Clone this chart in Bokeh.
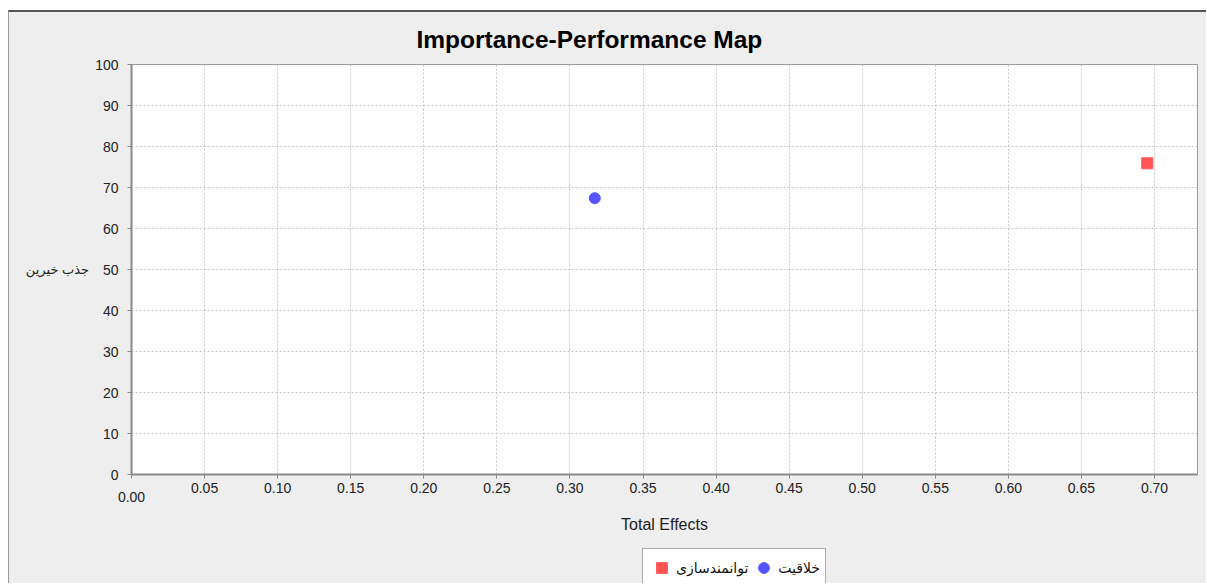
from bokeh.plotting import figure
from bokeh.layouts import column
from bokeh.models import FixedTicker, Legend, LegendItem, NumeralTickFormatter, Range1d
from bokeh.embed import file_html
from bokeh.resources import INLINE

# ---- data ----
series_names = ["توانمندسازی", "خلاقیت"]
total_effects = [0.695, 0.317]
performance = [75.9, 67.4]
x_ticks = [0.00, 0.05, 0.10, 0.15, 0.20, 0.25, 0.30, 0.35, 0.40, 0.45, 0.50, 0.55, 0.60, 0.65, 0.70]
y_ticks = [0, 10, 20, 30, 40, 50, 60, 70, 80, 90, 100]
x_label = "Total Effects"
y_label = "جذب خیرین"
title_text = "Importance-Performance Map"

FONT = "'Liberation Sans', 'DejaVu Sans', Arial, sans-serif"
BG = "#EEEEEE"
colors = ["#FF5555", "#5555FF"]
markers = ["square", "circle"]

p = figure(width=1198, height=538, output_backend="svg", toolbar_location=None,
           x_range=Range1d(0, 0.7294), y_range=Range1d(0, 100),
           min_border_left=122, min_border_right=10, min_border_top=51, min_border_bottom=76,
           background_fill_color="white", border_fill_color=BG,
           styles={"border-top": "2px solid #555555", "border-left": "1px solid #999999"})

p.title.text = title_text
p.title.text_font = FONT
p.title.text_font_size = "24.5px"
p.title.text_font_style = "bold"
p.title.text_color = "#000000"
p.title.align = "left"
p.title.offset = 285
p.title.standoff = 23

p.outline_line_color = "#9a9a9a"
p.outline_line_width = 1

for ax in (p.xaxis[0], p.yaxis[0]):
    ax.axis_line_color = "#888888"
    ax.axis_line_width = 2
    ax.major_tick_line_color = "#888888"
    ax.major_tick_out = 4
    ax.major_tick_in = 0
    ax.minor_tick_line_color = None
    ax.major_label_text_font = FONT
    ax.major_label_text_font_size = "14px"
    ax.major_label_text_color = "#222222"
    ax.axis_label_text_font = FONT
    ax.axis_label_text_font_style = "normal"
    ax.axis_label_text_color = "#222222"

p.xaxis.ticker = FixedTicker(ticks=x_ticks)
p.xaxis.formatter = NumeralTickFormatter(format="0.00")
p.xaxis.major_label_overrides = {0: "\n0.00"}
p.xaxis.major_label_text_line_height = 0.6
p.xaxis.axis_label = x_label
p.xaxis.axis_label_text_font_size = "16px"
p.xaxis.axis_label_standoff = 8
p.xaxis.major_label_standoff = 1

p.yaxis.ticker = FixedTicker(ticks=y_ticks)
p.yaxis.axis_label = y_label
p.yaxis.axis_label_text_font_size = "13px"
p.yaxis.axis_label_orientation = "horizontal"
p.yaxis.axis_label_standoff = 3
p.yaxis.major_label_standoff = 9

p.xgrid.ticker = FixedTicker(ticks=x_ticks)
p.ygrid.ticker = FixedTicker(ticks=y_ticks)
for g in (p.xgrid[0], p.ygrid[0]):
    g.grid_line_color = "#c4c4c4"
    g.grid_line_dash = "2 2"
    g.grid_line_width = 1

for i in range(len(series_names)):
    p.scatter([total_effects[i]], [performance[i]], marker=markers[i], size=11,
              fill_color=colors[i], line_color=colors[i])

# ---- legend strip below the chart (same series, drawn off-range so only the legend shows) ----
leg = figure(width=1198, height=35, output_backend="svg", toolbar_location=None,
             x_range=Range1d(0, 0.7294), y_range=Range1d(-2, -1),
             x_axis_type=None, y_axis_type=None,
             min_border_left=0, min_border_right=0, min_border_top=0, min_border_bottom=0,
             background_fill_color=BG, border_fill_color=BG,
             styles={"border-left": "1px solid #999999", "background-color": BG})
leg.outline_line_color = None
leg.grid.visible = False

items = []
for i in range(len(series_names)):
    r = leg.scatter([total_effects[i]], [performance[i]], marker=markers[i], size=11,
                    fill_color=colors[i], line_color=colors[i])
    items.append(LegendItem(label=series_names[i], renderers=[r]))

legend = Legend(items=items, orientation="horizontal", location=(511, -4),
                label_text_font=FONT, label_text_font_size="14px", label_text_color="#111111",
                glyph_width=27, glyph_height=27, spacing=2, padding=5, margin=0,
                label_standoff=1,
                border_line_color="#555555", border_line_width=1,
                background_fill_color="white", background_fill_alpha=1)
leg.add_layout(legend, "center")

layout = column(p, leg, spacing=0,
                styles={"margin": "10px 0px 0px 8px", "background-color": BG})

open("out.html", "w").write(file_html(layout, INLINE))
